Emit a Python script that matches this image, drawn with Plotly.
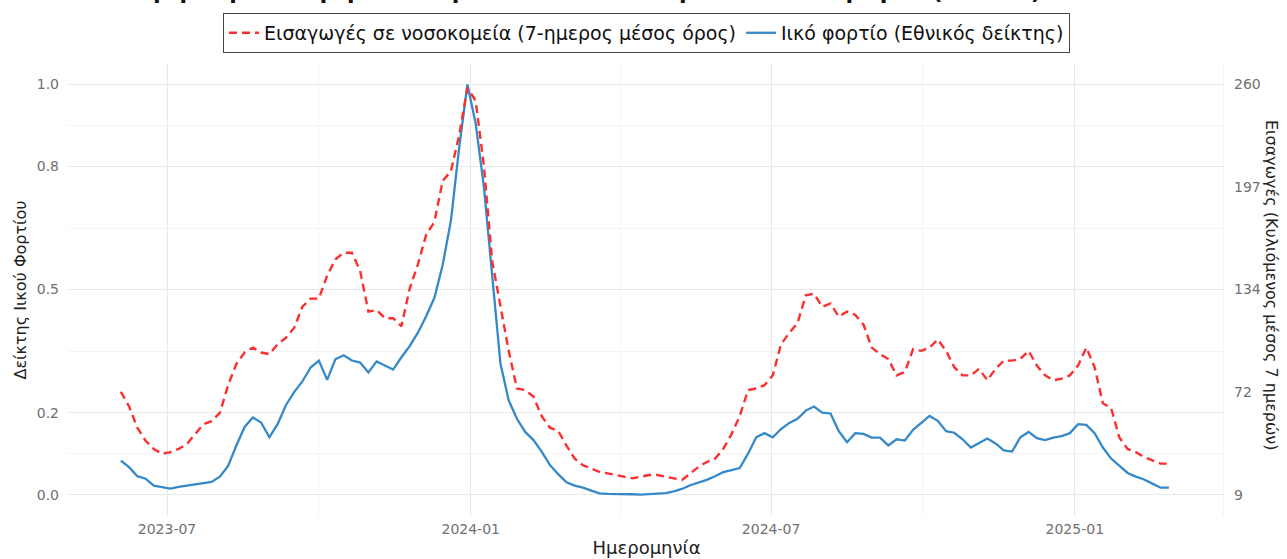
import pandas as pd
import plotly.graph_objects as go

RED = '#ff2e2e'
BLUE = '#3589c9'
GRID_MAJOR = '#e9e9e9'
GRID_MINOR = '#f4f4f4'
TICK_GREY = '#707070'
FONT = 'DejaVu Sans, Liberation Sans, Arial, sans-serif'

# 5-day sampling from 2023-06-03
dates = pd.date_range("2023-06-03", periods=128, freq="5D")

# national wastewater viral-load index (0-1)
viral_index = [
    .083, .067, .045, .039, .022, .019, .015, .019, .022, .024,
    .027, .031, .044, .07, .12, .165, .188, .176, .14, .172,
    .218, .25, .276, .31, .327, .28, .33, .34, .327, .322,
    .298, .325, .315, .305, .335, .362, .395, .435, .48, .56,
    .668, .846, 1.0, .905, .75, .54, .32, .23, .185, .153,
    .133, .105, .072, .05, .03, .022, .017, .01, .003, .002,
    .002, .002, .001, 0, .001, .002, .004, .008, .014, .023,
    .03, .036, .045, .055, .06, .065, .1, .14, .15, .14,
    .16, .175, .185, .205, .215, .2, .198, .155, .128, .15,
    .148, .139, .139, .12, .135, .132, .158, .175, .192, .18,
    .155, .151, .135, .115, .125, .137, .125, .108, .105, .14,
    .153, .138, .133, .139, .143, .15, .172, .17, .15, .115,
    .088, .07, .053, .044, .037, .027, .017, .017,
]

# hospital admissions, 7-day rolling mean
admissions = [
    72, 63, 50, 42, 37, 34, 35, 37, 40, 46,
    52, 54, 59, 76, 89, 96, 99, 96, 95, 101,
    105, 111, 124, 129, 129, 143, 153, 157, 157, 146,
    121, 122, 117, 117, 112, 135, 150, 168, 176, 201,
    207, 229, 258, 250, 210, 152, 124, 97, 74, 73,
    69, 57, 50, 48, 39, 31, 27, 25, 23, 22,
    21, 20, 19, 20, 21, 21, 20, 19, 18, 22,
    26, 29, 31, 37, 46, 57, 73, 74, 76, 82,
    101, 108, 114, 131, 132, 124, 126, 118, 121, 119,
    113, 99, 95, 92, 82, 84, 98, 97, 99, 104,
    97, 87, 82, 82, 86, 79, 86, 91, 91, 92,
    97, 88, 82, 79, 80, 82, 88, 99, 87, 65,
    62, 44, 37, 35, 32, 30, 28, 28,
]

left_ticks = [0, 0.2, 0.5, 0.8, 1.0]
left_labels = ["0.0", "0.2", "0.5", "0.8", "1.0"]
right_labels = ["9", "72", "134", "197", "260"]
x_ticks = ["2023-07-01", "2024-01-01", "2024-07-01", "2025-01-01"]
x_labels = ["2023-07", "2024-01", "2024-07", "2025-01"]
x_minor = ["2023-10-01", "2024-04-01", "2024-10-01", "2025-04-01"]

ADM_MIN, ADM_MAX = 9, 260
Y_RANGE = [-0.052, 1.05]


def to_adm(v):
    return ADM_MIN + (ADM_MAX - ADM_MIN) * v


fig = go.Figure()
fig.add_trace(go.Scatter(
    x=dates, y=admissions, yaxis='y2', mode='lines',
    name='Εισαγωγές σε νοσοκομεία (7-ημερος μέσος όρος)',
    line=dict(color=RED, width=2.4, dash='8px,5px'),
))
fig.add_trace(go.Scatter(
    x=dates, y=viral_index, mode='lines',
    name='Ιικό φορτίο (Εθνικός δείκτης)',
    line=dict(color=BLUE, width=2.3),
))

fig.update_layout(
    width=1287, height=559,
    margin=dict(l=68, r=62, t=64, b=43, autoexpand=False),
    plot_bgcolor='white', paper_bgcolor='white',
    font=dict(family=FONT, color='#222'),
    showlegend=True,
    legend=dict(
        orientation='h', x=0.5, xanchor='center', y=1.113, yanchor='top',
        bordercolor='#444', borderwidth=1, bgcolor='white',
        font=dict(size=19, color='#111'), itemwidth=30, tracegroupgap=0,
    ),
    xaxis=dict(
        type='date', range=['2023-05-02', '2025-04-02'], automargin=False,
        tickmode='array', tickvals=x_ticks, ticktext=x_labels,
        showgrid=True, gridcolor=GRID_MAJOR, gridwidth=1.2, zeroline=False,
        minor=dict(tickvals=x_minor, showgrid=True, gridcolor=GRID_MINOR, gridwidth=1),
        tickfont=dict(size=14, color=TICK_GREY),
        title=dict(text='Ημερομηνία', font=dict(size=18, color='#222'), standoff=5),
        ticklabelstandoff=3,
    ),
    yaxis=dict(
        range=Y_RANGE, automargin=False,
        tickmode='array', tickvals=left_ticks, ticktext=left_labels,
        showgrid=True, gridcolor=GRID_MAJOR, gridwidth=1.2, zeroline=False,
        minor=dict(tickvals=[0.1, 0.35, 0.65, 0.9], showgrid=True,
                   gridcolor=GRID_MINOR, gridwidth=1),
        tickfont=dict(size=14, color=TICK_GREY),
        title=dict(text='Δείκτης Ιικού Φορτίου', font=dict(size=16, color='#222'), standoff=6),
        ticklabelstandoff=8,
    ),
    yaxis2=dict(
        overlaying='y', side='right', automargin=False,
        range=[to_adm(Y_RANGE[0]), to_adm(Y_RANGE[1])],
        tickmode='array', tickvals=[to_adm(v) for v in [0, 0.25, 0.5, 0.75, 1.0]],
        ticktext=right_labels, showgrid=False, zeroline=False,
        tickfont=dict(size=14, color=TICK_GREY), ticklabelstandoff=8,
    ),
)

# right axis title reads top-to-bottom, as in the source
fig.add_annotation(
    text='Εισαγωγές (Κυλιόμενος μέσος 7 ημερών)', textangle=90,
    xref='paper', yref='paper', x=1.0, xshift=58, y=0.51,
    showarrow=False, font=dict(size=16, color='#222'),
)

# title, cropped at the top edge in the source image
fig.add_annotation(
    text='<b>Σύγκριση ιικού φορτίου λυμάτων και νοσοκομειακών εισαγωγών (Ελλάδα)</b>',
    xref='paper', yref='paper', x=0.4425, y=1.128, xanchor='center', yanchor='bottom',
    showarrow=False, font=dict(size=22, color='#111'),
)

# drop the default page margin so the figure sits at the window's top-left corner
fig.write_html("out.html", config={'displayModeBar': False},
               post_script="document.body.style.margin='0';")
